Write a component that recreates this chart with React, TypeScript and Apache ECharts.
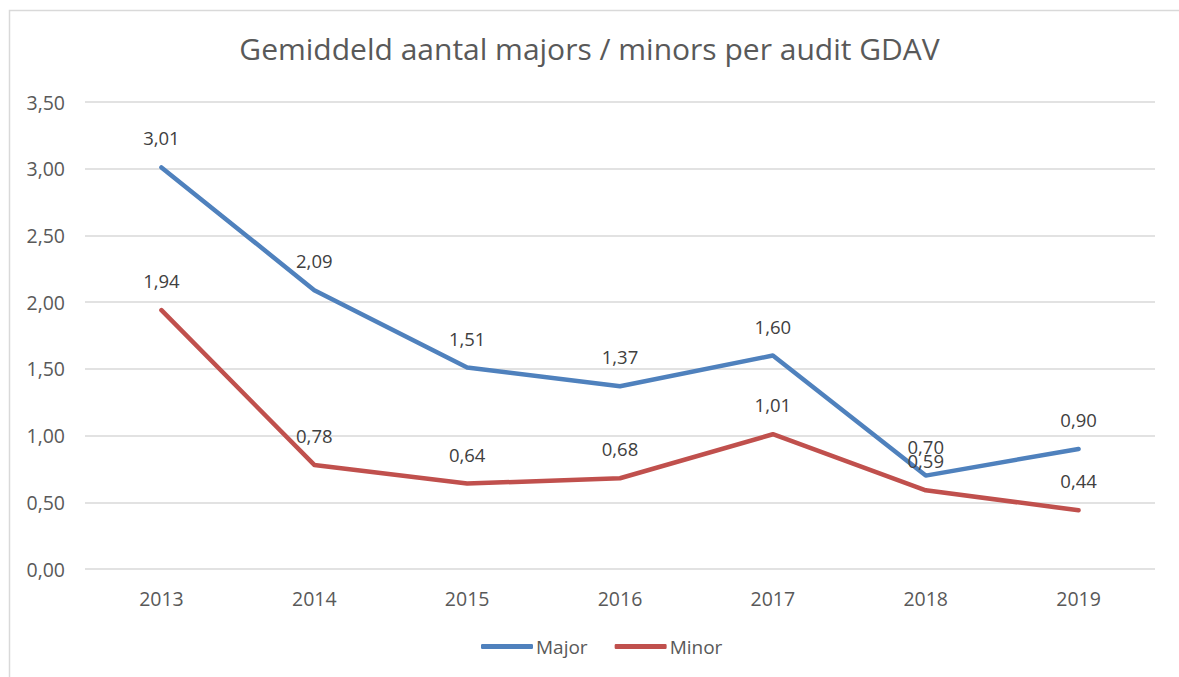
import React, { useEffect, useRef } from "react";
import * as echarts from "echarts";

const years = ["2013", "2014", "2015", "2016", "2017", "2018", "2019"];
const majorValues = [3.01, 2.09, 1.51, 1.37, 1.6, 0.7, 0.9];
const minorValues = [1.94, 0.78, 0.64, 0.68, 1.01, 0.59, 0.44];
const titleText = "Gemiddeld aantal majors / minors per audit GDAV";

const fmt = (v: number) => v.toFixed(2).replace(".", ",");
const FONT = "'Open Sans', 'Noto Sans', sans-serif";

export default function App() {
  const ref = useRef<HTMLDivElement>(null);
  useEffect(() => {
    const chart = echarts.init(ref.current!, null, { renderer: "svg" });
    const labelStyle = {
      show: true,
      position: "top" as const,
      distance: 19,
      color: "#404040",
      fontSize: 18.5,
      fontFamily: FONT,
      formatter: (p: any) => fmt(p.value),
    };
    const mk = (name: string, data: number[], color: string) => ({
      name,
      type: "line",
      data,
      symbol: "circle",
      symbolSize: 2,
      showSymbol: true,
      color,
      itemStyle: { color },
      lineStyle: { width: 4.5, color, cap: "round", join: "round" },
      label: labelStyle,
      labelLayout: { hideOverlap: false },
    });
    chart.setOption({
      animation: false,
      backgroundColor: "#ffffff",
      title: {
        text: titleText,
        left: "center",
        top: 28,
        textStyle: { color: "#595959", fontSize: 30, fontWeight: "normal", fontFamily: FONT },
      },
      graphic: [
        {
          type: "rect",
          shape: { x: 9.5, y: 10.5, width: 1200, height: 700 },
          style: { fill: "none", stroke: "#d9d9d9", lineWidth: 1.5 },
          silent: true,
          z: -1,
        },
      ],
      legend: {
        bottom: 16,
        left: 476,
        itemWidth: 52,
        itemHeight: 5,
        itemGap: 27,
        icon: "roundRect",
        textStyle: { color: "#595959", fontSize: 19, fontFamily: FONT, padding: [0, 0, 0, -2] },
        data: ["Major", "Minor"],
      },
      grid: { left: 85, right: 24, top: 102, bottom: 108 },
      xAxis: {
        type: "category",
        data: years,
        boundaryGap: true,
        axisLine: { show: false },
        axisTick: { show: false },
        axisLabel: { color: "#595959", fontSize: 19.5, fontFamily: FONT, margin: 19 },
      },
      yAxis: {
        type: "value",
        min: 0,
        max: 3.5,
        interval: 0.5,
        axisLine: { show: false },
        axisTick: { show: false },
        axisLabel: { color: "#595959", fontSize: 19.5, fontFamily: FONT, margin: 20, formatter: (v: number) => fmt(v) },
        splitLine: { lineStyle: { color: "#d9d9d9", width: 1.5 } },
      },
      series: [mk("Major", majorValues, "#4f81bd"), mk("Minor", minorValues, "#c0504d")],
    });
    return () => chart.dispose();
  }, []);
  return <div ref={ref} style={{ width: 1179, height: 677, position: "absolute", left: 0, top: 0 }} />;
}
